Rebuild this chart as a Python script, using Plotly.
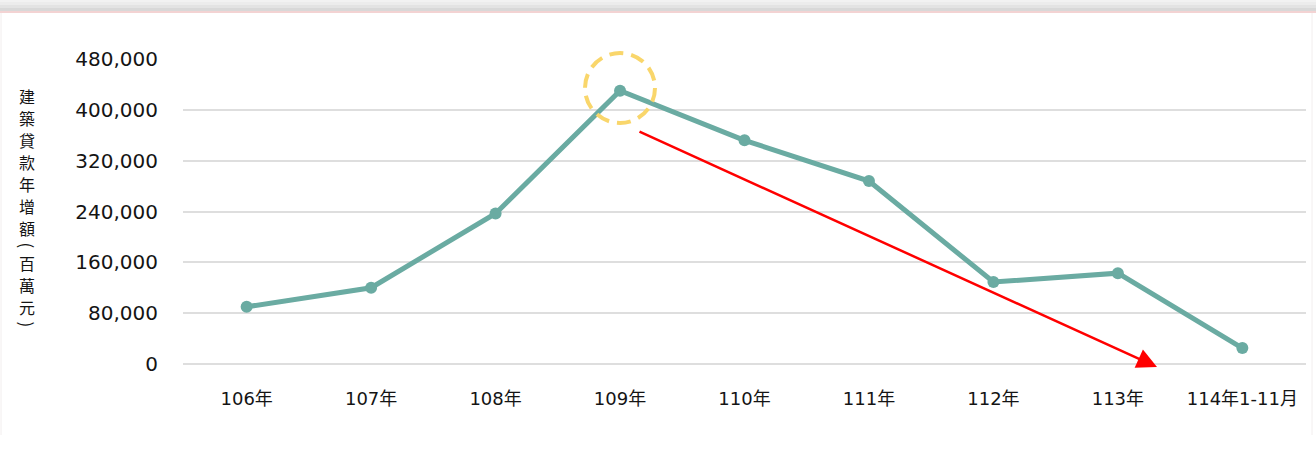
import plotly.graph_objects as go

# Annual increase of construction loans (million NTD)
categories = ["106年", "107年", "108年", "109年", "110年", "111年", "112年", "113年", "114年1-11月"]
loan_increase = [90000, 120000, 237000, 430000, 352000, 288000, 129000, 143000, 25000]
y_ticks = [0, 80000, 160000, 240000, 320000, 400000, 480000]
y_title_chars = ["建", "築", "貸", "款", "年", "增", "額", "(", "百", "萬", "元", ")"]

W, H = 1316, 449
M_L, M_R, M_T, M_B = 183, 10, 59, 85
PLOT_H = H - M_T - M_B
PLOT_W = W - M_L - M_R


def px_x(x):
    return (x - M_L) / PLOT_W


def px_y(y):
    return (H - M_B - y) / PLOT_H


CJK = "Noto Sans CJK TC, Noto Sans CJK SC, sans-serif"
NUM = "DejaVu Sans, Noto Sans CJK TC, sans-serif"
TEXT_COLOR = "#141414"
LINE_COLOR = "#6aaba2"

fig = go.Figure()
fig.add_trace(go.Scatter(
    x=categories, y=loan_increase, mode="lines+markers",
    line=dict(color=LINE_COLOR, width=5),
    marker=dict(color=LINE_COLOR, size=12),
    hoverinfo="x+y", showlegend=False,
))

shapes = []
# shaded band along the top edge
band = [(0, 2, "#f2f2f2"), (2, 5, "#ececec"), (5, 8, "#e3e3e3"), (8, 11, "#d8d8d8"),
        (11, 13, "#f3d3d3")]
for y0, y1, c in band:
    shapes.append(dict(type="rect", xref="paper", yref="paper",
                       x0=px_x(0), x1=px_x(W), y0=px_y(y1), y1=px_y(y0),
                       fillcolor=c, line=dict(width=0), layer="below"))
# faint frame edges
for xe in (1, 1312):
    shapes.append(dict(type="line", xref="paper", yref="paper",
                       x0=px_x(xe), x1=px_x(xe), y0=px_y(435), y1=px_y(13),
                       line=dict(color="#f2eeee", width=1)))
# dashed highlight around the peak
cx, cy, r = 620, 88, 35
shapes.append(dict(type="circle", xref="paper", yref="paper",
                   x0=px_x(cx - r), x1=px_x(cx + r), y0=px_y(cy + r), y1=px_y(cy - r),
                   line=dict(color="#f9d66b", width=4, dash="14px,8px")))

annotations = [
    # downward trend arrow
    dict(xref="paper", yref="paper", axref="pixel", ayref="pixel",
         x=px_x(1157), y=px_y(367), ax=638 - 1157, ay=131 - 367,
         text="", showarrow=True, arrowhead=2, arrowsize=1.6, arrowwidth=2.5,
         arrowcolor="#ff0000"),
]

# vertical axis title: upright characters, brackets turned sideways
row_y = 85
for ch in y_title_chars:
    is_paren = ch in ("(", ")")
    step = 13 if is_paren else 22
    annotations.append(dict(
        xref="paper", yref="paper", x=px_x(27), y=px_y(row_y + step / 2),
        xanchor="center", yanchor="middle", showarrow=False, text=ch,
        textangle=90 if is_paren else 0,
        font=dict(family=CJK, size=16 if not is_paren else 17, color=TEXT_COLOR)))
    row_y += step

fig.update_layout(
    width=W, height=H,
    margin=dict(l=M_L, r=M_R, t=M_T, b=M_B, pad=0),
    paper_bgcolor="white", plot_bgcolor="white",
    font=dict(family=NUM, color=TEXT_COLOR),
    shapes=shapes, annotations=annotations,
    xaxis=dict(type="category", showgrid=False, zeroline=False, showline=False,
               ticks="", tickfont=dict(family=NUM, size=18), ticklabelstandoff=22),
    yaxis=dict(range=[0, 480000], tickvals=y_ticks, tickformat=",d",
               showgrid=True, gridcolor="#dedede", gridwidth=1.5,
               zeroline=True, zerolinecolor="#dedede", zerolinewidth=1.5,
               showline=False, ticks="", tickfont=dict(family=NUM, size=20),
               ticklabelstandoff=24),
)

fig.write_html("out.html")
